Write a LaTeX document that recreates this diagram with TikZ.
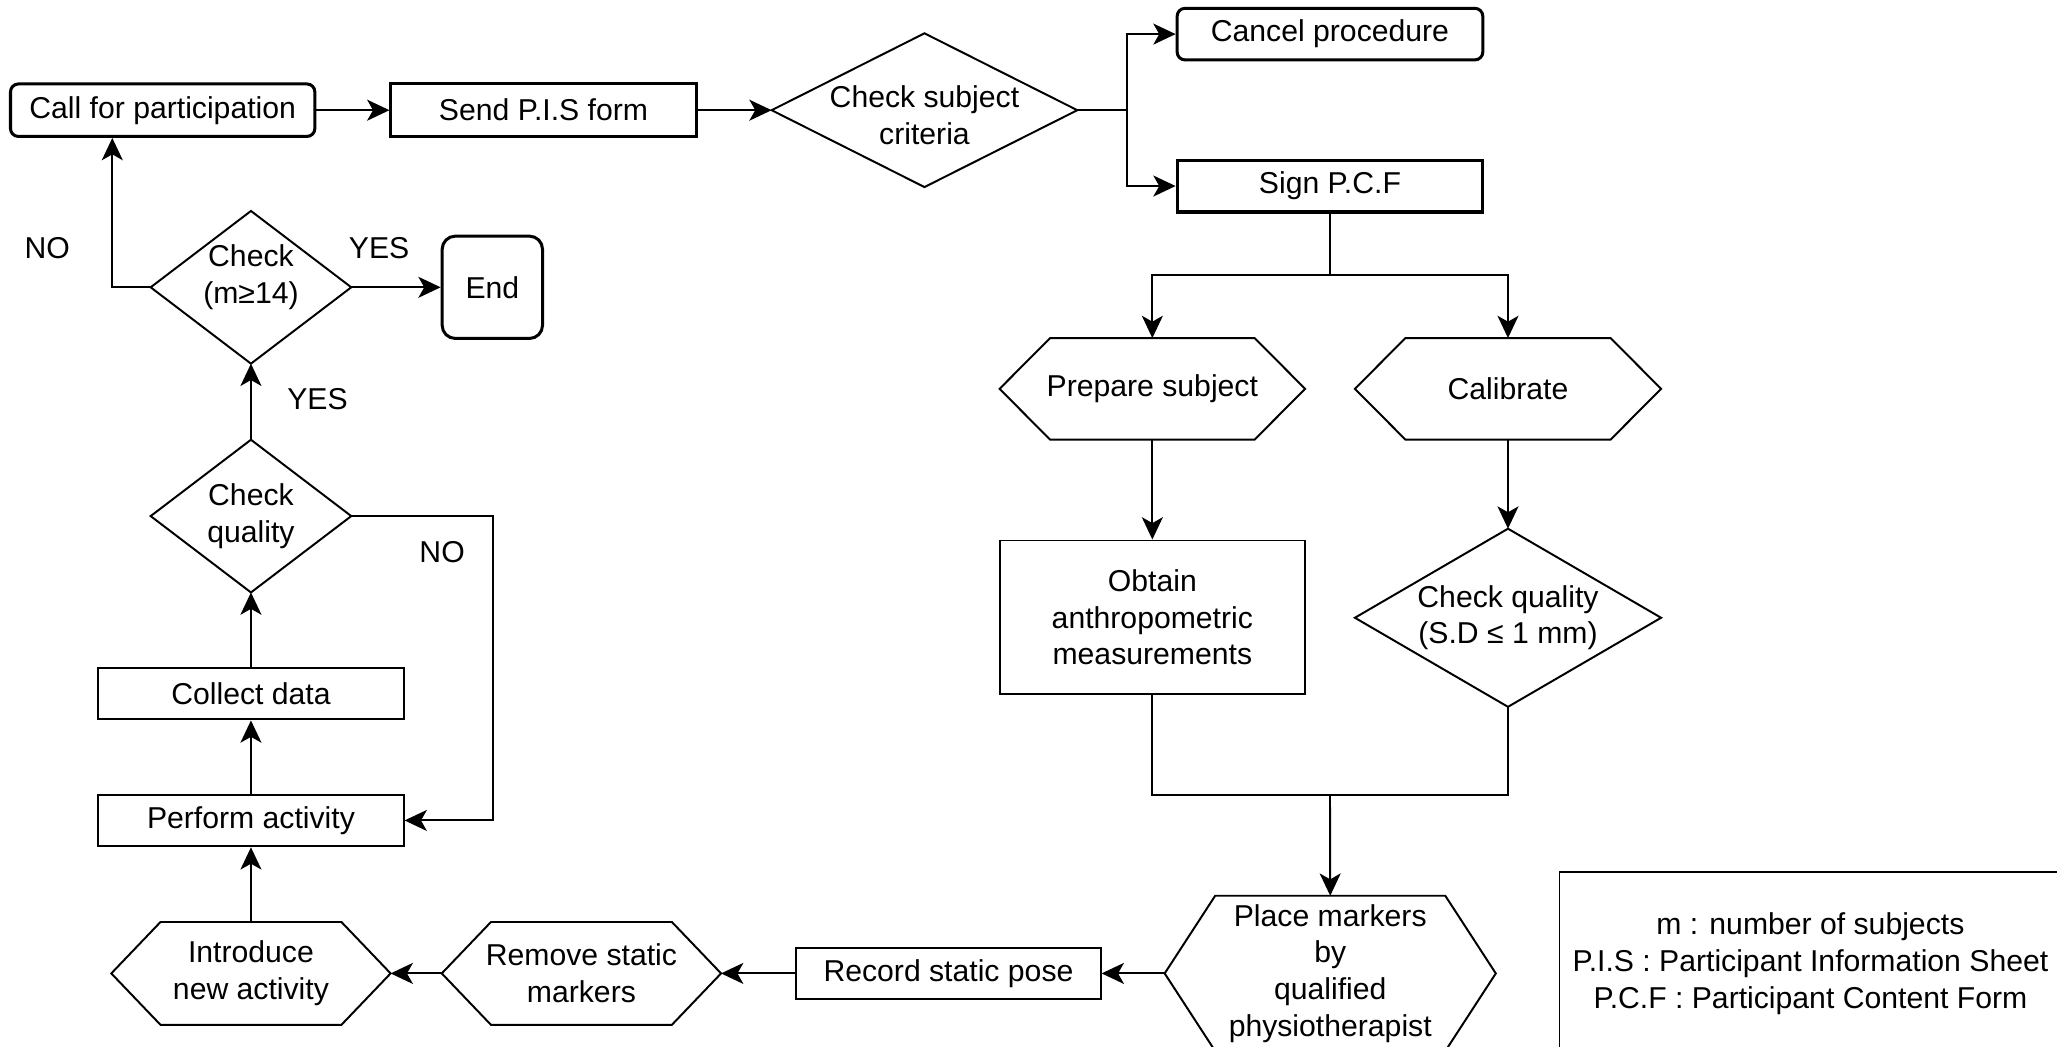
\documentclass[tikz,border=0pt]{standalone}
\usepackage{fontspec}
\setmainfont{Liberation Sans}
\usetikzlibrary{arrows.meta,calc}
\newcommand\hexpath[2]{\draw[lw] (#1.west) -- ([xshift=#2]#1.north west) -- ([xshift=-#2]#1.north east) -- (#1.east) -- ([xshift=-#2]#1.south east) -- ([xshift=#2]#1.south west) -- cycle;}
\newcommand\diapath[1]{\draw[lw] (#1.north) -- (#1.east) -- (#1.south) -- (#1.west) -- cycle;}
\begin{document}
\begin{tikzpicture}[x=1pt,y=-1pt, font=\fontsize{23}{28}\selectfont,
  lw/.style={line width=1.5pt},
  tk/.style={line width=2.3pt},
  base/.style={inner sep=0pt, align=center},
  boxn/.style={base, draw, lw},
  arr/.style={lw, -{Stealth[length=17pt,width=16pt,inset=4.5pt]}}]
\useasboundingbox (0,0) rectangle (1568,798);
\clip (0,0) rectangle (1568,798);
\fill[white] (0,0) rectangle (1568,798);

\node[boxn, tk, rounded corners=6pt, minimum width=232pt, minimum height=40pt] (call) at (124,84) {Call for participation};
\node[boxn, tk, minimum width=232.6pt, minimum height=40pt] (pis) at (414.3,84) {Send P.I.S form};
\node[base, minimum width=232.6pt, minimum height=116.8pt] (crit) at (704.7,84) {};
\node[base] (critt) at (704.7,88) {Check subject\\criteria};
\diapath{crit}
\node[boxn, tk, rounded corners=6pt, minimum width=233pt, minimum height=39.3pt] (cancel) at (1013.8,26) {Cancel procedure};
\node[boxn, tk, minimum width=233pt, minimum height=39.6pt] (sign) at (1013.8,141.8) {Sign P.C.F};
\node[base, minimum width=232.5pt, minimum height=77pt] (prep) at (878.4,296.4) {Prepare subject};
\hexpath{prep}{38.5pt}
\node[base, minimum width=233pt, minimum height=77pt] (calib) at (1149.5,296.4) {Calibrate};
\hexpath{calib}{38.5pt}
\node[boxn, minimum width=232.4pt, minimum height=117.2pt] (obtain) at (878.4,470.6) {Obtain\\anthropometric\\measurements};
\node[base, minimum width=233pt, minimum height=135.4pt] (cq2) at (1149.5,470.9) {Check quality\\(S.D ≤ 1 mm)};
\diapath{cq2}
\node[base, minimum width=252pt, minimum height=118pt] (place) at (1014,742) {Place markers\\by\\qualified\\physiotherapist};
\hexpath{place}{38.5pt}
\node[boxn, minimum width=232pt, minimum height=39.4pt] (record) at (723,742) {Record static pose};
\node[base, minimum width=212.5pt, minimum height=78pt] (remove) at (443.2,742) {Remove static\\markers};
\hexpath{remove}{37.5pt}
\node[base, minimum width=212.5pt, minimum height=78pt] (intro) at (191.3,742) {Introduce\\new activity};
\hexpath{intro}{37.5pt}
\node[boxn, minimum width=232.7pt, minimum height=39.4pt] (perform) at (191.3,625.4) {Perform activity};
\node[boxn, minimum width=232.7pt, minimum height=39.4pt] (collect) at (191.3,528.7) {Collect data};
\node[base, minimum width=152.5pt, minimum height=116pt] (cq) at (191.3,393.4) {Check\\quality};
\diapath{cq}
\node[base, minimum width=152.5pt, minimum height=116pt] (cm) at (191.3,219) {};
\node[base] (cmt) at (191.3,211.5) {Check\\(m≥14)};
\diapath{cm}
\node[boxn, tk, rounded corners=10pt, minimum width=76.5pt, minimum height=78pt] (end) at (375.3,219) {End};

\draw[arr] (call.east) -- (pis.west);
\draw[arr] (pis.east) -- (crit.west);
\coordinate (j1) at (858.9,84);
\draw[lw] (crit.east) -- (j1);
\draw[arr] (j1) |- (cancel.west);
\draw[arr] (j1) |- (sign.west);
\coordinate (j2) at (1013.8,209.6);
\draw[lw] (sign.south) -- (j2);
\draw[arr] (j2) -| (prep.north);
\draw[arr] (j2) -| (calib.north);
\draw[arr] (prep.south) -- (obtain.north);
\draw[arr] (calib.south) -- (cq2.north);
\coordinate (j3) at (1013.8,606.3);
\draw[lw] (obtain.south) |- (j3) -| (cq2.south);
\draw[arr] (j3) -- (place.north);
\draw[arr] (place.west) -- (record.east);
\draw[arr] (record.west) -- (remove.east);
\draw[arr] (remove.west) -- (intro.east);
\draw[arr] (intro.north) -- (perform.south);
\draw[arr] (perform.north) -- (collect.south);
\draw[arr] (collect.north) -- (cq.south);
\coordinate (c1) at (376,393.4);
\draw[arr] (cq.east) -- (c1) |- (perform.east);
\draw[arr] (cq.north) -- (cm.south);
\draw[arr] (cm.east) -- (end.west);
\coordinate (c2) at (85.6,219);
\draw[arr] (cm.west) -- (c2) -- (c2 |- call.south);

\node (no1) at (36,189) {NO};
\node (yes1) at (289,189) {YES};
\node (yes2) at (242,304) {YES};
\node (no2) at (337,421) {NO};

\node[draw, lw, minimum width=420pt, minimum height=180pt, anchor=north west] (legend) at (1188,664) {};
\node[align=center] (legtext) at (1380,734.5) {m : number of subjects\\P.I.S : Participant Information Sheet\\P.C.F : Participant Content Form};
\end{tikzpicture}
\end{document}
